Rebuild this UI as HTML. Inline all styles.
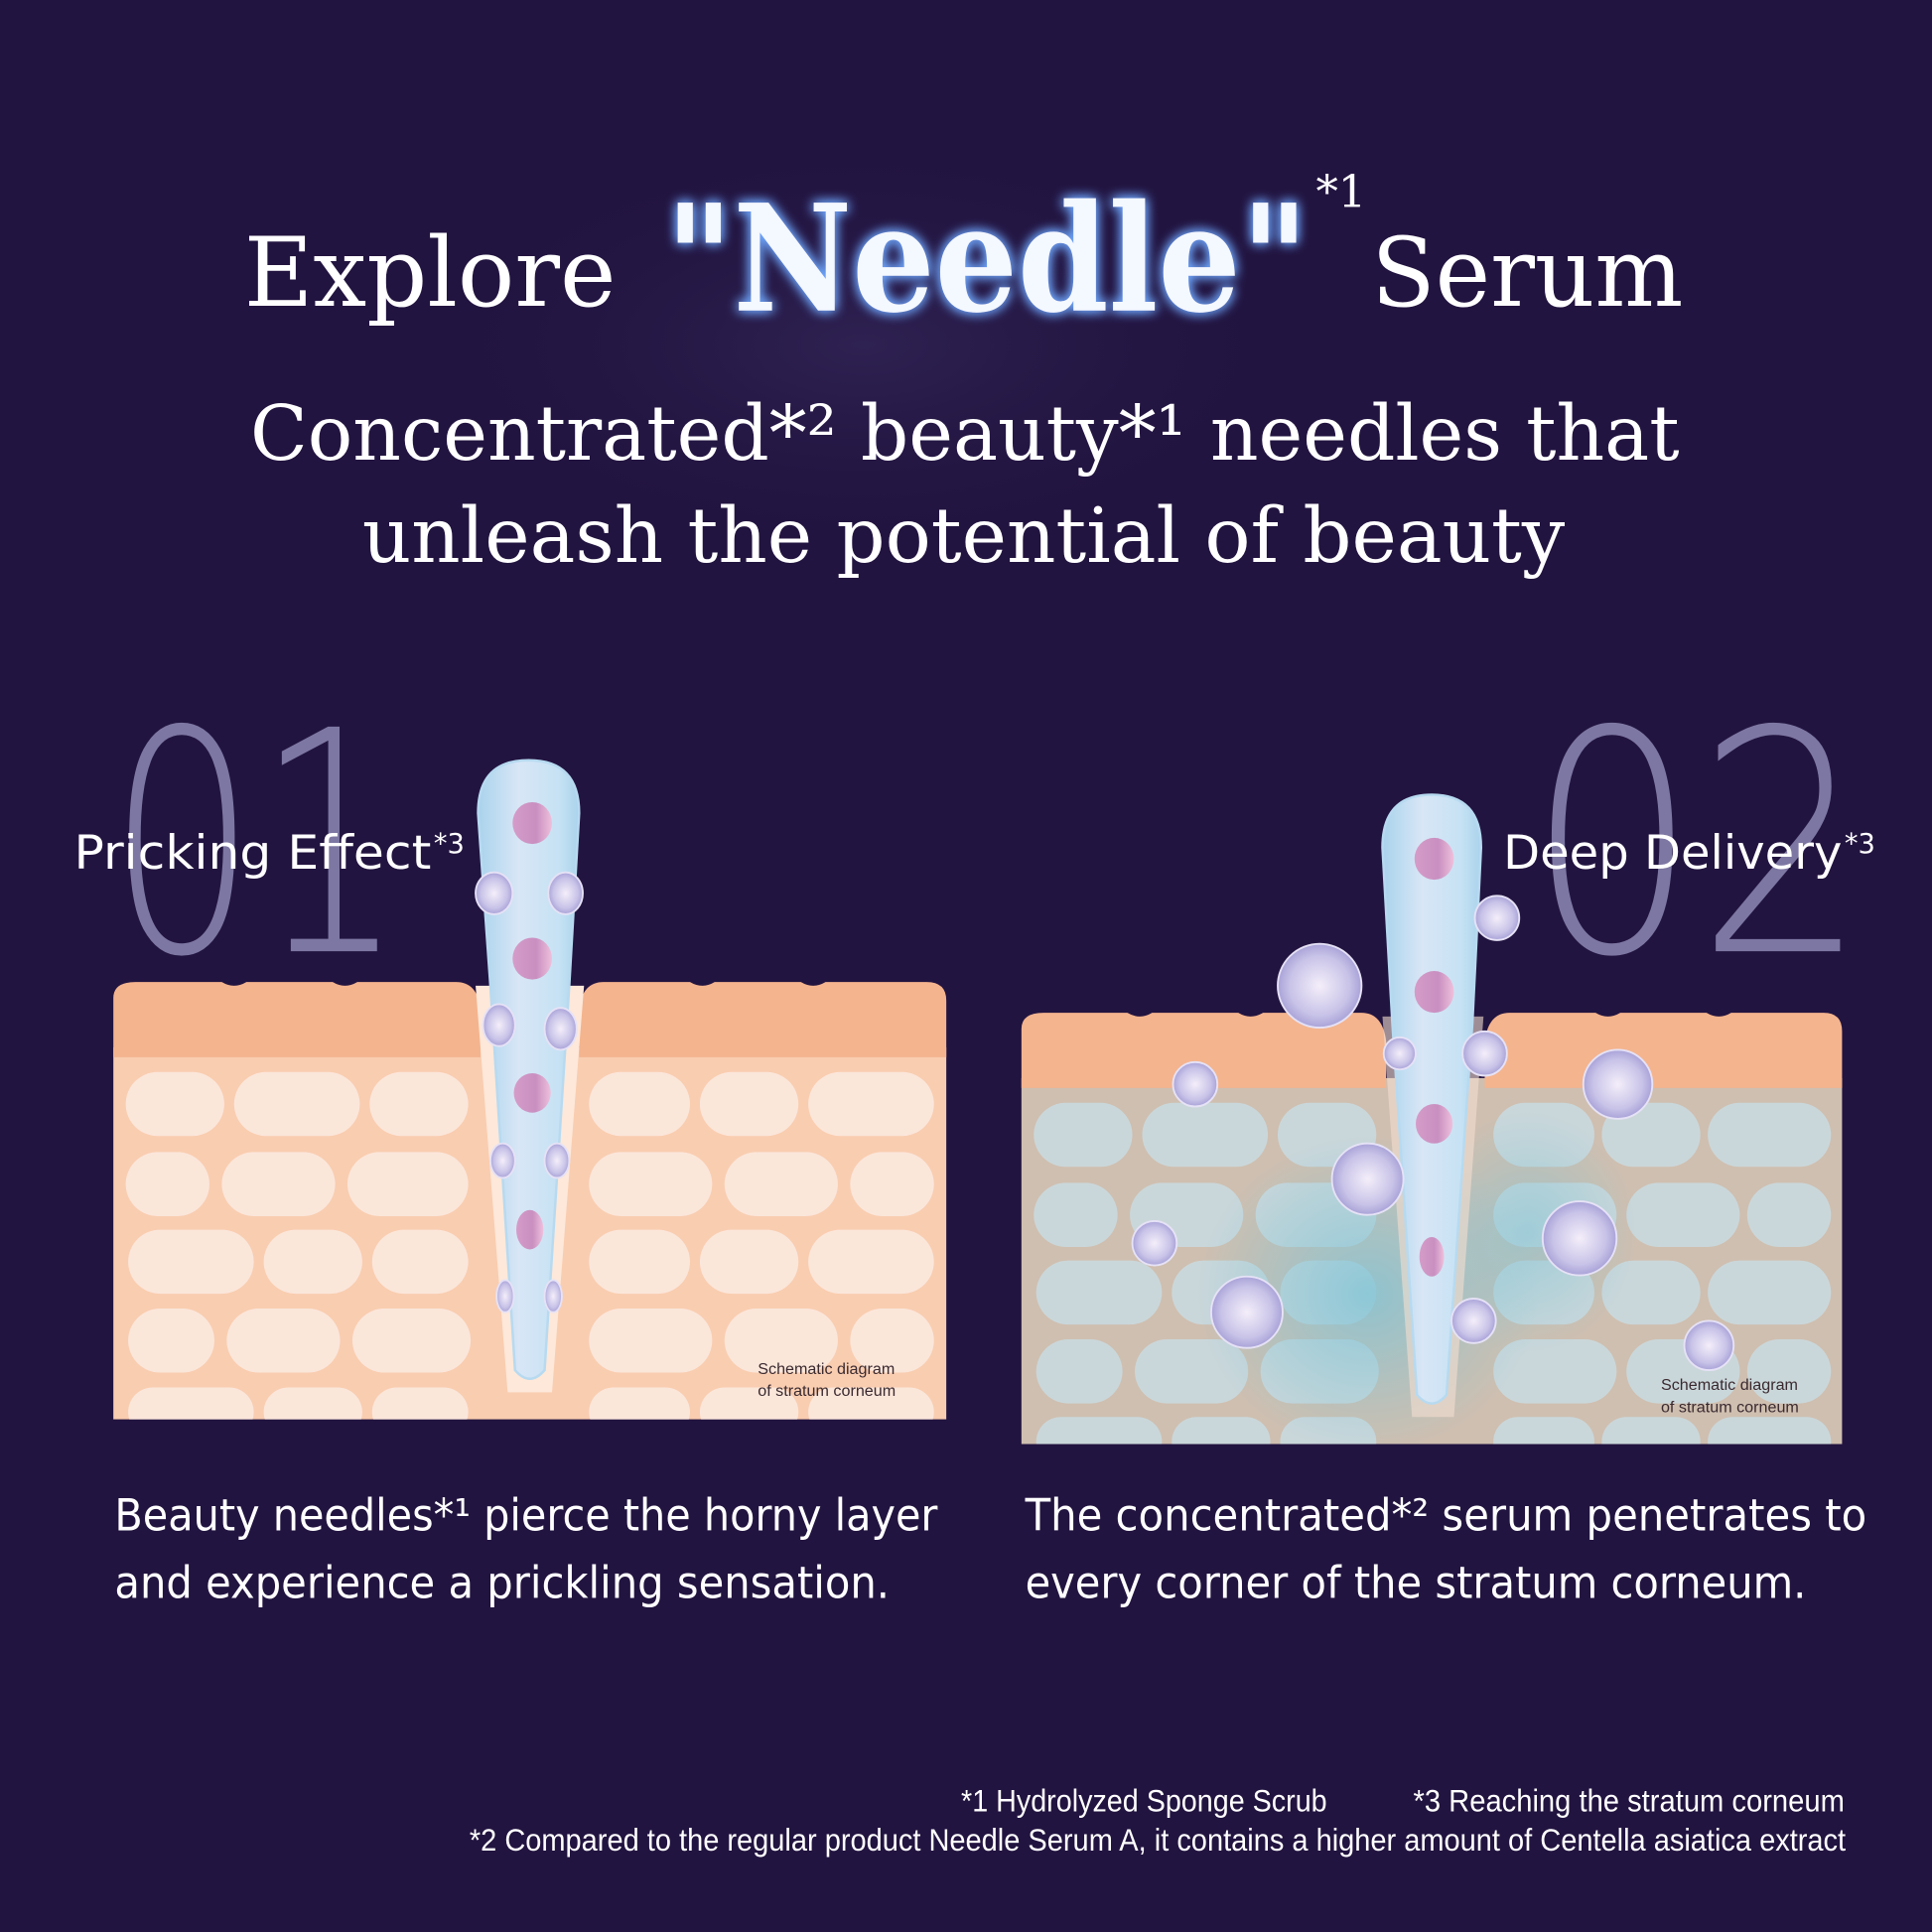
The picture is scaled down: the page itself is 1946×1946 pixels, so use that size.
<!DOCTYPE html>
<html><head><meta charset="utf-8"><style>html,body{margin:0;padding:0;background:#221440}svg{display:block}</style></head><body>
<svg width="1946" height="1946" viewBox="0 0 1568 1568" xmlns="http://www.w3.org/2000/svg">
<defs>
<radialGradient id="bgg" cx="0.5" cy="0.5" r="0.5"><stop offset="0" stop-color="#34285a"/><stop offset="1" stop-color="#221440" stop-opacity="0"/></radialGradient>
<radialGradient id="bub" cx="0.5" cy="0.5" r="0.5"><stop offset="0" stop-color="#f4eefa"/><stop offset="0.7" stop-color="#c9c4e8"/><stop offset="1" stop-color="#a9a3d8"/></radialGradient>
<linearGradient id="pink" x1="0" x2="1"><stop offset="0" stop-color="#d59cc9"/><stop offset="0.6" stop-color="#c88fc0"/><stop offset="1" stop-color="#efc0dc"/></linearGradient>
<linearGradient id="ndl" x1="0" x2="1"><stop offset="0" stop-color="#a9d3ec"/><stop offset="0.4" stop-color="#d8e6f6"/><stop offset="0.8" stop-color="#c6e2f4"/><stop offset="1" stop-color="#a9d3ec"/></linearGradient>
<radialGradient id="teal" cx="0.5" cy="0.5" r="0.5"><stop offset="0" stop-color="#7fc4d6" stop-opacity="0.8"/><stop offset="1" stop-color="#7fc4d6" stop-opacity="0"/></radialGradient>
<filter id="glow" x="-20%" y="-40%" width="140%" height="180%"><feGaussianBlur stdDeviation="5" result="b"/><feFlood flood-color="#6fa8ff"/><feComposite in2="b" operator="in" result="c"/><feMerge><feMergeNode in="c"/><feMergeNode in="c"/><feMergeNode in="SourceGraphic"/></feMerge></filter>
</defs>
<rect width="1568" height="1568" fill="#221440"/>
<ellipse cx="700" cy="280" rx="380" ry="180" fill="url(#bgg)" opacity="0.7"/>

<g font-family="DejaVu Serif, Liberation Serif, serif" fill="#fff">
<text x="198" y="248" font-size="78" textLength="302" lengthAdjust="spacingAndGlyphs">Explore</text>
<text x="540" y="252" font-size="120" font-weight="bold" fill="#f4f8ff" filter="url(#glow)" textLength="522" lengthAdjust="spacingAndGlyphs">"Needle"</text>
<text x="1068" y="168" font-size="36">*1</text>
<text x="1113" y="248" font-size="78" textLength="253" lengthAdjust="spacingAndGlyphs">Serum</text>
<text x="203" y="373" font-size="62" textLength="1160" lengthAdjust="spacingAndGlyphs">Concentrated*² beauty*¹ needles that</text>
<text x="294" y="456" font-size="62" textLength="976" lengthAdjust="spacingAndGlyphs">unleash the potential of beauty</text>
</g>

<g font-family="DejaVu Sans ExtraLight, DejaVu Sans, sans-serif" font-weight="200" font-size="250" fill="#7d77a3">
<text x="88" y="772" textLength="240" lengthAdjust="spacingAndGlyphs">01</text>
<text x="1240" y="772" textLength="275" lengthAdjust="spacingAndGlyphs">02</text>
</g>

<!-- LEFT PANEL -->
<g>
<rect x="92" y="850" width="676" height="302" fill="#f9cdb0"/>
<path d="M92 858 V810 Q92 797 110 797 L180 797 Q190 803 200 797 L270 797 Q280 803 290 797 L370 797 Q388 797 390 820 V858 Z" fill="#f4b48e"/>
<path d="M470 858 V820 Q472 797 490 797 L560 797 Q570 803 580 797 L650 797 Q660 803 670 797 L752 797 Q768 797 768 812 V858 Z" fill="#f4b48e"/>
<g fill="#fbe6da">
<rect x="102" y="870" width="80" height="52" rx="26"/><rect x="190" y="870" width="102" height="52" rx="26"/><rect x="300" y="870" width="80" height="52" rx="26"/>
<rect x="478" y="870" width="82" height="52" rx="26"/><rect x="568" y="870" width="80" height="52" rx="26"/><rect x="656" y="870" width="102" height="52" rx="26"/>
<rect x="102" y="935" width="68" height="52" rx="26"/><rect x="180" y="935" width="92" height="52" rx="26"/><rect x="282" y="935" width="98" height="52" rx="26"/>
<rect x="478" y="935" width="100" height="52" rx="26"/><rect x="588" y="935" width="92" height="52" rx="26"/><rect x="690" y="935" width="68" height="52" rx="26"/>
<rect x="104" y="998" width="102" height="52" rx="26"/><rect x="214" y="998" width="80" height="52" rx="26"/><rect x="302" y="998" width="78" height="52" rx="26"/>
<rect x="478" y="998" width="82" height="52" rx="26"/><rect x="568" y="998" width="80" height="52" rx="26"/><rect x="656" y="998" width="102" height="52" rx="26"/>
<rect x="104" y="1062" width="70" height="52" rx="26"/><rect x="184" y="1062" width="92" height="52" rx="26"/><rect x="286" y="1062" width="96" height="52" rx="26"/>
<rect x="478" y="1062" width="100" height="52" rx="26"/><rect x="588" y="1062" width="92" height="52" rx="26"/><rect x="690" y="1062" width="68" height="52" rx="26"/>
<rect x="104" y="1126" width="102" height="40" rx="20"/><rect x="214" y="1126" width="80" height="40" rx="20"/><rect x="302" y="1126" width="78" height="40" rx="20"/>
<rect x="478" y="1126" width="82" height="40" rx="20"/><rect x="568" y="1126" width="80" height="40" rx="20"/><rect x="656" y="1126" width="102" height="40" rx="20"/>
</g>
<rect x="92" y="1152" width="676" height="20" fill="#221440"/>
<path d="M386 800 L474 800 L448 1130 L412 1130 Z" fill="#fde8da"/>
<path d="M388 660 Q388 617 429 617 Q470 617 470 660 L462 800 L442 1112 Q430 1126 418 1112 L398 800 Z" fill="url(#ndl)" stroke="#b7daf0" stroke-width="2"/>
<g fill="url(#pink)"><ellipse cx="432" cy="668" rx="16" ry="17"/><ellipse cx="432" cy="778" rx="16" ry="17"/><ellipse cx="432" cy="887" rx="15" ry="16"/><ellipse cx="430" cy="998" rx="11" ry="16"/></g>
<g fill="url(#bub)" stroke="#e6e2f6" stroke-width="1.5">
<ellipse cx="401" cy="725" rx="15" ry="17"/><ellipse cx="459" cy="725" rx="14" ry="17"/>
<ellipse cx="405" cy="832" rx="13" ry="17"/><ellipse cx="455" cy="835" rx="13" ry="17"/>
<ellipse cx="408" cy="942" rx="10" ry="14"/><ellipse cx="452" cy="942" rx="10" ry="14"/>
<ellipse cx="410" cy="1052" rx="7" ry="13"/><ellipse cx="449" cy="1052" rx="7" ry="13"/>
</g>
<text x="615" y="1115" font-family="Liberation Sans, sans-serif" font-size="13" fill="#3a2a30">Schematic diagram</text>
<text x="615" y="1133" font-family="Liberation Sans, sans-serif" font-size="13" fill="#3a2a30">of stratum corneum</text>
</g>

<!-- RIGHT PANEL -->
<g>
<rect x="829" y="875" width="666" height="297" fill="#cfbfb0"/>
<path d="M829 883 V835 Q829 822 847 822 L915 822 Q925 828 935 822 L1005 822 Q1015 828 1025 822 L1105 822 Q1122 822 1125 845 V883 Z" fill="#f4b48e"/>
<path d="M1205 883 V845 Q1208 822 1225 822 L1295 822 Q1305 828 1315 822 L1385 822 Q1395 828 1405 822 L1480 822 Q1495 822 1495 837 V883 Z" fill="#f4b48e"/>
<g fill="#cad7da">
<rect x="839" y="895" width="80" height="52" rx="26"/><rect x="927" y="895" width="102" height="52" rx="26"/><rect x="1037" y="895" width="80" height="52" rx="26"/>
<rect x="1212" y="895" width="82" height="52" rx="26"/><rect x="1300" y="895" width="80" height="52" rx="26"/><rect x="1386" y="895" width="100" height="52" rx="26"/>
<rect x="839" y="960" width="68" height="52" rx="26"/><rect x="917" y="960" width="92" height="52" rx="26"/><rect x="1019" y="960" width="98" height="52" rx="26"/>
<rect x="1212" y="960" width="100" height="52" rx="26"/><rect x="1320" y="960" width="92" height="52" rx="26"/><rect x="1418" y="960" width="68" height="52" rx="26"/>
<rect x="841" y="1023" width="102" height="52" rx="26"/><rect x="951" y="1023" width="80" height="52" rx="26"/><rect x="1039" y="1023" width="78" height="52" rx="26"/>
<rect x="1212" y="1023" width="82" height="52" rx="26"/><rect x="1300" y="1023" width="80" height="52" rx="26"/><rect x="1386" y="1023" width="100" height="52" rx="26"/>
<rect x="841" y="1087" width="70" height="52" rx="26"/><rect x="921" y="1087" width="92" height="52" rx="26"/><rect x="1023" y="1087" width="96" height="52" rx="26"/>
<rect x="1212" y="1087" width="100" height="52" rx="26"/><rect x="1320" y="1087" width="92" height="52" rx="26"/><rect x="1418" y="1087" width="68" height="52" rx="26"/>
<rect x="841" y="1150" width="102" height="40" rx="20"/><rect x="951" y="1150" width="80" height="40" rx="20"/><rect x="1039" y="1150" width="78" height="40" rx="20"/>
<rect x="1212" y="1150" width="82" height="40" rx="20"/><rect x="1300" y="1150" width="80" height="40" rx="20"/><rect x="1386" y="1150" width="100" height="40" rx="20"/>
</g>
<ellipse cx="1110" cy="1050" rx="140" ry="130" fill="url(#teal)"/>
<ellipse cx="1240" cy="1000" rx="90" ry="100" fill="url(#teal)" opacity="0.7"/>
<rect x="829" y="1172" width="680" height="20" fill="#221440"/>
<path d="M1122 825 L1204 825 L1180 1150 L1146 1150 Z" fill="#f3ddd0" opacity="0.6"/>
<path d="M1122 688 Q1122 645 1162 645 Q1202 645 1202 688 L1195 830 L1174 1132 Q1162 1146 1150 1132 L1130 830 Z" fill="url(#ndl)" stroke="#b7daf0" stroke-width="2"/>
<g fill="url(#pink)"><ellipse cx="1164" cy="697" rx="16" ry="17"/><ellipse cx="1164" cy="805" rx="16" ry="17"/><ellipse cx="1164" cy="912" rx="15" ry="16"/><ellipse cx="1162" cy="1020" rx="10" ry="16"/></g>
<g fill="url(#bub)" stroke="#e6e2f6" stroke-width="1.5">
<circle cx="1071" cy="800" r="34"/><circle cx="1215" cy="745" r="18"/><circle cx="970" cy="880" r="18"/>
<circle cx="1136" cy="855" r="13"/><circle cx="1205" cy="855" r="18"/><circle cx="1313" cy="880" r="28"/>
<circle cx="1110" cy="957" r="29"/><circle cx="937" cy="1009" r="18"/><circle cx="1282" cy="1005" r="30"/>
<circle cx="1012" cy="1065" r="29"/><circle cx="1196" cy="1072" r="18"/><circle cx="1387" cy="1092" r="20"/>
</g>
<text x="1348" y="1128" font-family="Liberation Sans, sans-serif" font-size="13" fill="#3a2a30">Schematic diagram</text>
<text x="1348" y="1146" font-family="Liberation Sans, sans-serif" font-size="13" fill="#3a2a30">of stratum corneum</text>
</g>

<g font-family="DejaVu Sans, Liberation Sans, sans-serif" fill="#fff">
<text x="60" y="705" font-size="38" textLength="290" lengthAdjust="spacingAndGlyphs">Pricking Effect</text>
<text x="352" y="692" font-size="22">*3</text>
<text x="1220" y="705" font-size="38" textLength="275" lengthAdjust="spacingAndGlyphs">Deep Delivery</text>
<text x="1497" y="692" font-size="22">*3</text>
<text x="93" y="1242" font-size="36" textLength="668" lengthAdjust="spacingAndGlyphs">Beauty needles*¹ pierce the horny layer</text>
<text x="93" y="1297" font-size="36" textLength="629" lengthAdjust="spacingAndGlyphs">and experience a prickling sensation.</text>
<text x="832" y="1242" font-size="36" textLength="683" lengthAdjust="spacingAndGlyphs">The concentrated*² serum penetrates to</text>
<text x="832" y="1297" font-size="36" textLength="634" lengthAdjust="spacingAndGlyphs">every corner of the stratum corneum.</text>
</g>
<g font-family="Liberation Sans Narrow, Liberation Sans, sans-serif" fill="#fff">
<text x="780" y="1470" font-size="25" textLength="297" lengthAdjust="spacingAndGlyphs">*1 Hydrolyzed Sponge Scrub</text>
<text x="1147" y="1470" font-size="25" textLength="350" lengthAdjust="spacingAndGlyphs">*3 Reaching the stratum corneum</text>
<text x="381" y="1502" font-size="25" textLength="1117" lengthAdjust="spacingAndGlyphs">*2 Compared to the regular product Needle Serum A, it contains a higher amount of Centella asiatica extract</text>
</g>
</svg>
</body></html>
